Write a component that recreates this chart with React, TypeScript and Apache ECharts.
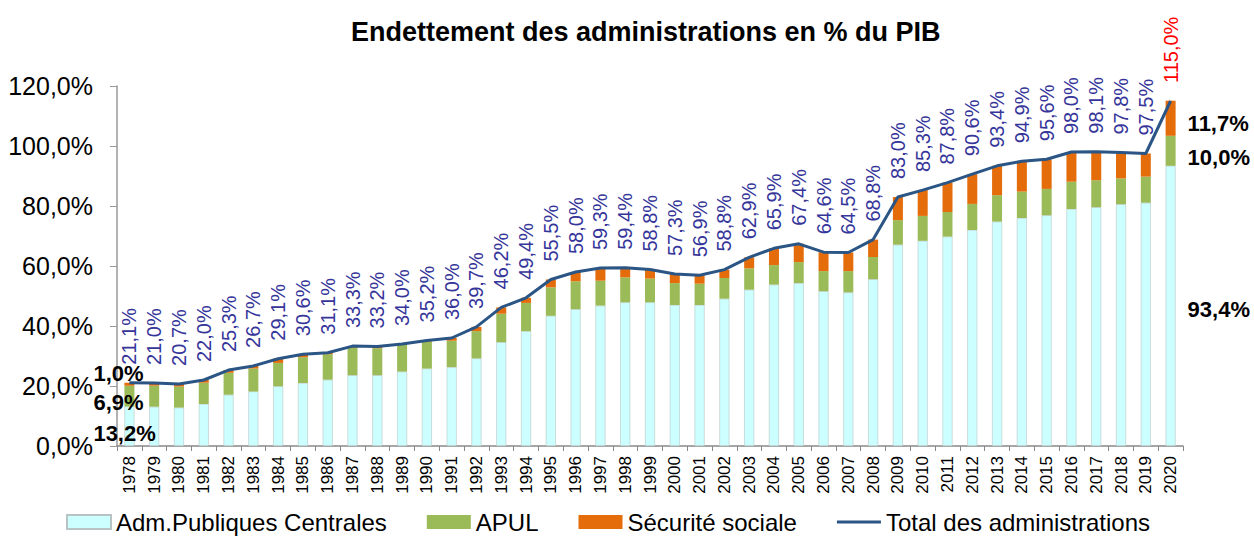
import React, { useEffect, useRef } from "react";
import * as echarts from "echarts";

const years = ["1978","1979","1980","1981","1982","1983","1984","1985","1986","1987","1988","1989","1990","1991","1992","1993","1994","1995","1996","1997","1998","1999","2000","2001","2002","2003","2004","2005","2006","2007","2008","2009","2010","2011","2012","2013","2014","2015","2016","2017","2018","2019","2020"];

const central = [13.2, 13.1, 12.8, 14.0, 17.1, 18.2, 19.9, 21.0, 22.1, 23.6, 23.6, 24.8, 25.8, 26.3, 29.2, 34.6, 38.3, 43.4, 45.6, 46.8, 47.9, 47.9, 47.0, 47.0, 49.1, 52.1, 53.8, 54.3, 51.6, 51.2, 55.6, 67.1, 68.4, 69.8, 72.0, 74.8, 76.0, 76.9, 79.0, 79.6, 80.6, 81.1, 93.4];

const apul = [6.9, 7.0, 7.0, 7.1, 7.3, 7.6, 7.8, 8.6, 8.5, 9.2, 9.0, 8.9, 9.0, 8.8, 9.1, 9.5, 9.4, 9.5, 9.3, 8.3, 8.3, 7.9, 7.3, 7.1, 6.9, 7.1, 6.5, 7.0, 6.7, 7.1, 7.4, 8.2, 8.3, 8.2, 8.7, 8.8, 8.8, 8.8, 9.1, 9.0, 8.6, 8.7, 10.0];

const secu = [1.0, 0.9, 0.9, 0.9, 0.9, 0.9, 1.4, 1.0, 0.5, 0.5, 0.6, 0.3, 0.4, 0.9, 1.4, 2.1, 1.7, 2.6, 3.1, 4.2, 3.2, 3.0, 3.0, 2.8, 2.8, 3.7, 5.6, 6.1, 6.3, 6.2, 5.8, 7.7, 8.6, 9.8, 9.9, 9.8, 10.1, 9.9, 9.9, 9.5, 8.6, 7.7, 11.7];

const total = [21.1, 21.0, 20.7, 22.0, 25.3, 26.7, 29.1, 30.6, 31.1, 33.3, 33.2, 34.0, 35.2, 36.0, 39.7, 46.2, 49.4, 55.5, 58.0, 59.3, 59.4, 58.8, 57.3, 56.9, 58.8, 62.9, 65.9, 67.4, 64.6, 64.5, 68.8, 83.0, 85.3, 87.8, 90.6, 93.4, 94.9, 95.6, 98.0, 98.1, 97.8, 97.5, 115.0];

const yTicks = [0, 20, 40, 60, 80, 100, 120];

const seriesNames = ["Adm.Publiques Centrales", "APUL", "Sécurité sociale", "Total des administrations"];

const FONT = "'Liberation Sans', Arial, sans-serif";
const fmt = (v: number) => v.toFixed(1).replace(".", ",") + "%";

function barData(values: number[], firstOffsetY: number, lastOffsetY: number) {
  const n = values.length;
  return values.map((v, i) => {
    const base = {
      show: true,
      formatter: fmt(v),
      color: "#000",
      fontFamily: FONT,
      fontWeight: "bold" as const,
      fontSize: 22,
      align: "left" as const,
      verticalAlign: "middle" as const,
    };
    if (i === 0) {
      return { value: v, label: { ...base, position: [-31, "50%"], offset: [0, firstOffsetY] } };
    }
    if (i === n - 1) {
      return { value: v, label: { ...base, position: [22, "50%"], offset: [0, lastOffsetY] } };
    }
    return v;
  });
}

export default function App() {
  const ref = useRef<HTMLDivElement>(null);
  useEffect(() => {
    document.body.style.margin = "0";
    const chart = echarts.init(ref.current!, null, { renderer: "svg" });
    const n = total.length;
    chart.setOption({
      animation: false,
      backgroundColor: "#fff",
      textStyle: { fontFamily: FONT },
      title: {
        text: "Endettement des administrations en % du PIB",
        left: 346,
        top: 13,
        textStyle: { fontFamily: FONT, fontSize: 27, fontWeight: "bold", color: "#000" },
      },
      legend: {
        bottom: 1,
        left: 61,
        itemWidth: 44,
        itemHeight: 14,
        itemGap: 40,
        textStyle: { fontFamily: FONT, fontSize: 24, color: "#000" },
        data: [
          { name: seriesNames[0], icon: "rect" },
          { name: seriesNames[1], icon: "rect" },
          { name: seriesNames[2], icon: "rect" },
          {
            name: seriesNames[3],
            icon: "path://M0,0h0.05v0.05h-0.05z M0,5.5h44v3h-44z M43.95,13.95h0.05v0.05h-0.05z",
            itemStyle: { color: "#2A5584" },
          },
        ],
      },
      grid: { left: 117, right: 71, top: 86, bottom: 94, containLabel: false },
      xAxis: {
        type: "category",
        data: years,
        boundaryGap: true,
        axisLine: { lineStyle: { color: "#888", width: 1.5 } },
        axisTick: { show: true, alignWithLabel: false, length: 5, lineStyle: { color: "#888" } },
        axisLabel: { rotate: 90, interval: 0, fontSize: 17, color: "#000", fontFamily: FONT, margin: 10 },
      },
      yAxis: {
        type: "value",
        min: yTicks[0],
        max: yTicks[yTicks.length - 1],
        interval: 20,
        splitLine: { show: false },
        axisLine: { show: true, lineStyle: { color: "#999", width: 1.5 } },
        axisTick: { show: true, length: 7, lineStyle: { color: "#999" } },
        axisLabel: { formatter: (v: number) => fmt(v), fontSize: 25, color: "#000", fontFamily: FONT, margin: 24 },
      },
      series: [
        {
          name: seriesNames[0],
          type: "bar",
          stack: "dette",
          barWidth: 10,
          itemStyle: { color: "#CCFFFF", borderColor: "#b8c4c4", borderWidth: 0.6 },
          data: barData(central, 7, 4),
        },
        {
          name: seriesNames[1],
          type: "bar",
          stack: "dette",
          barWidth: 10,
          itemStyle: { color: "#9BBB59" },
          data: barData(apul, 6, 7),
        },
        {
          name: seriesNames[2],
          type: "bar",
          stack: "dette",
          barWidth: 10,
          itemStyle: { color: "#E46C0A" },
          data: barData(secu, -11, 5),
        },
        {
          name: seriesNames[3],
          type: "line",
          symbol: "circle",
          symbolSize: 0,
          showSymbol: true,
          lineStyle: { color: "#2A5584", width: 3 },
          itemStyle: { color: "#2A5584" },
          z: 5,
          label: {
            show: true,
            position: "top",
            distance: 18,
            rotate: 90,
            align: "left",
            verticalAlign: "middle",
            fontSize: 20,
            fontFamily: FONT,
            color: "#35359A",
            formatter: (p: any) => fmt(p.value as number),
          },
          data: total.map((v, i) =>
            i === n - 1 ? { value: v, label: { color: "#FF0000" } } : v
          ),
        },
      ],
    });
    return () => chart.dispose();
  }, []);
  return <div ref={ref} style={{ width: 1254, height: 540, position: "absolute", left: 0, top: 0 }} />;
}
